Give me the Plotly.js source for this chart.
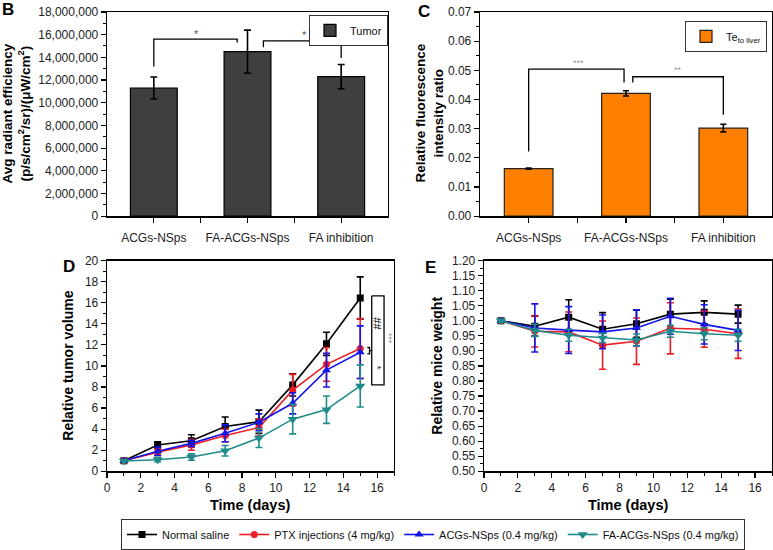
<!DOCTYPE html>
<html>
<head>
<meta charset="utf-8">
<script src="https://cdn.plot.ly/plotly-3.0.1.min.js"></script>
<style>html,body{margin:0;padding:0;background:#fff;}#chart{width:773px;height:550px;}</style>
</head>
<body>
<div id="chart"></div>
<script>
// ---- data ----
const barCats = ['ACGs-NSps', 'FA-ACGs-NSps', 'FA inhibition'];
const tumorVals = [11300000, 14500000, 12300000];
const tumorErr = [970000, 1900000, 1070000];
const liverVals = [0.0163, 0.0421, 0.0302];
const liverErr = [0.0002, 0.0009, 0.0013];

const days = [1, 3, 5, 7, 9, 11, 13, 15];
const seriesNames = ['Normal saline', 'PTX injections (4 mg/kg)', 'ACGs-NSps (0.4 mg/kg)', 'FA-ACGs-NSps (0.4 mg/kg)'];

const volSaline = [1.0, 2.5, 2.9, 4.25, 4.7, 8.2, 12.1, 16.45];
const volSalineErr = [0.05, 0.3, 0.56, 0.9, 1.1, 1.05, 1.1, 2.0];
const volPTX = [1.0, 1.8, 2.5, 3.4, 4.15, 7.7, 10.15, 11.65];
const volPTXErr = [0.05, 0.3, 0.5, 0.6, 0.8, 1.5, 1.6, 2.85];
const volACG = [1.0, 1.9, 2.65, 3.6, 4.65, 6.45, 9.6, 11.3];
const volACGErr = [0.1, 0.4, 0.3, 0.8, 0.8, 1.0, 1.6, 2.5];
const volFA = [0.97, 1.1, 1.35, 1.95, 3.15, 4.95, 5.85, 8.1];
const volFAErr = [0.05, 0.2, 0.3, 0.5, 0.9, 1.4, 1.3, 2.0];

const wSaline = [1.0, 0.982, 1.012, 0.972, 0.99, 1.022, 1.028, 1.022];
const wSalineErr = [0.005, 0.033, 0.058, 0.055, 0.045, 0.05, 0.038, 0.03];
const wPTX = [1.0, 0.965, 0.963, 0.919, 0.932, 0.975, 0.972, 0.957];
const wPTXErr = [0.005, 0.052, 0.066, 0.08, 0.077, 0.085, 0.06, 0.082];
const wACG = [1.0, 0.976, 0.969, 0.963, 0.976, 1.015, 0.988, 0.968];
const wACGErr = [0.005, 0.08, 0.078, 0.056, 0.06, 0.06, 0.065, 0.067];
const wFA = [1.0, 0.968, 0.952, 0.943, 0.936, 0.965, 0.957, 0.952];
const wFAErr = [0.005, 0.02, 0.02, 0.015, 0.02, 0.02, 0.02, 0.02];

// ---- styles ----
const W = 773, H = 550;
const FONT = 'Liberation Sans, Arial, Helvetica, sans-serif';
const colors = ['#000000', '#ee1c24', '#1414e6', '#1f8a8a'];
const symbols = ['square', 'circle', 'triangle-up', 'triangle-down'];
const msize = [7, 7, 8, 9];
const xpx = p => p / W;
const ypx = p => 1 - p / H;
const barX = barCats.map((c, i) => i + 1);

const traces = [];
traces.push({
  type: 'bar', x: barX, y: tumorVals, width: 0.5, name: 'Tumor',
  marker: {color: '#3f3f3f', line: {color: '#000', width: 1.2}},
  error_y: {type: 'data', array: tumorErr, color: '#000', thickness: 1.6, width: 3.5},
  xaxis: 'x', yaxis: 'y', legend: 'legend2', showlegend: true
});
traces.push({
  type: 'bar', x: barX, y: liverVals, width: 0.5, name: 'Te<sub>to liver</sub>',
  marker: {color: '#ff8000', line: {color: '#222', width: 1.2}},
  error_y: {type: 'data', array: liverErr, color: '#000', thickness: 1.6, width: 3},
  xaxis: 'x2', yaxis: 'y2', legend: 'legend3', showlegend: true
});
const vols = [[volSaline, volSalineErr], [volPTX, volPTXErr], [volACG, volACGErr], [volFA, volFAErr]];
const ws = [[wSaline, wSalineErr], [wPTX, wPTXErr], [wACG, wACGErr], [wFA, wFAErr]];
vols.forEach((v, i) => {
  traces.push({
    type: 'scatter', mode: 'lines+markers', x: days, y: v[0], name: seriesNames[i],
    line: {color: colors[i], width: 1.6},
    marker: {color: colors[i], symbol: symbols[i], size: msize[i]},
    error_y: {type: 'data', array: v[1], color: colors[i], thickness: 1.6, width: 3.5},
    xaxis: 'x3', yaxis: 'y3', legend: 'legend', showlegend: true
  });
});
ws.forEach((v, i) => {
  traces.push({
    type: 'scatter', mode: 'lines+markers', x: days, y: v[0], name: seriesNames[i],
    line: {color: colors[i], width: 1.6},
    marker: {color: colors[i], symbol: symbols[i], size: msize[i]},
    error_y: {type: 'data', array: v[1], color: colors[i], thickness: 1.6, width: 3.5},
    xaxis: 'x4', yaxis: 'y4', showlegend: false
  });
});

const tickFont = {family: FONT, size: 12, color: '#222'};
function axisBase(extra) {
  return Object.assign({
    showline: true, linecolor: '#000', linewidth: 1.3, mirror: true,
    ticks: 'outside', ticklen: 5, tickwidth: 1.2, tickcolor: '#000',
    showgrid: false, zeroline: false, tickfont: tickFont, fixedrange: true
  }, extra);
}

const barXAxis = dom => axisBase({
  domain: dom, range: [0.5, 3.5], tickmode: 'array', tickvals: barX, ticktext: barCats,
  ticklabelstandoff: 5,
  minor: {tickmode: 'array', tickvals: [1.5, 2.5], ticks: 'outside', ticklen: 5, tickwidth: 1.2, tickcolor: '#000'}
});
const dayAxis = dom => axisBase({
  domain: dom, range: [0, 17], tickmode: 'linear', tick0: 0, dtick: 2,
  minor: {dtick: 1, tick0: 0, ticks: 'outside', ticklen: 3, tickwidth: 1, tickcolor: '#000'}
});

const layout = {
  width: W, height: H,
  margin: {l: 0, r: 0, t: 0, b: 0},
  paper_bgcolor: '#fff', plot_bgcolor: '#fff',
  font: {family: FONT, color: '#000'},
  xaxis: barXAxis([xpx(107), xpx(388)]),
  yaxis: axisBase({domain: [ypx(217), ypx(12)], range: [0, 18000000], dtick: 2000000, tickformat: ',d',
    minor: {dtick: 1000000, ticks: 'outside', ticklen: 3, tickwidth: 1, tickcolor: '#000'}}),
  xaxis2: Object.assign(barXAxis([xpx(480), xpx(772)]), {anchor: 'y2'}),
  yaxis2: axisBase({domain: [ypx(217), ypx(12)], range: [0, 0.07], dtick: 0.01, tickformat: '.2f', anchor: 'x2',
    minor: {dtick: 0.005, ticks: 'outside', ticklen: 3, tickwidth: 1, tickcolor: '#000'}}),
  xaxis3: Object.assign(dayAxis([xpx(107), xpx(394)]), {anchor: 'y3'}),
  yaxis3: axisBase({domain: [ypx(473), ypx(261.5)], range: [0, 20], dtick: 2, anchor: 'x3',
    minor: {dtick: 1, ticks: 'outside', ticklen: 3, tickwidth: 1, tickcolor: '#000'}}),
  xaxis4: Object.assign(dayAxis([xpx(484), xpx(772)]), {anchor: 'y4'}),
  yaxis4: axisBase({domain: [ypx(473), ypx(261.5)], range: [0.5, 1.2], dtick: 0.05, tick0: 0.5, tickformat: '.2f', anchor: 'x4',
    minor: {dtick: 0.025, ticks: 'outside', ticklen: 3, tickwidth: 1, tickcolor: '#000'}}),
  showlegend: true,
  legend: {
    orientation: 'h', x: xpx(121), xanchor: 'left', y: ypx(521), yanchor: 'top',
    bordercolor: '#333', borderwidth: 1, bgcolor: '#fff',
    font: {family: FONT, size: 11, color: '#111'}, itemclick: false, tracegroupgap: 0
  },
  legend2: {
    x: xpx(388), xanchor: 'right', y: ypx(15), yanchor: 'top',
    bordercolor: '#333', borderwidth: 1, bgcolor: '#fff',
    font: {family: FONT, size: 11, color: '#111'}
  },
  legend3: {
    x: xpx(767), xanchor: 'right', y: ypx(21), yanchor: 'top',
    bordercolor: '#333', borderwidth: 1, bgcolor: '#fff',
    font: {family: FONT, size: 11, color: '#111'}
  },
  shapes: [],
  annotations: []
};

function path(xref, yref, pts, color) {
  const d = pts.map((p, i) => (i ? 'L' : 'M') + p[0] + ',' + p[1]).join(' ');
  layout.shapes.push({type: 'path', xref: xref, yref: yref, path: d, line: {color: color || '#000', width: 1.3}});
}
function note(xref, yref, x, y, text, size, color, angle, bold) {
  layout.annotations.push({xref: xref, yref: yref, x: x, y: y, text: bold ? '<b>' + text + '</b>' : text,
    showarrow: false, font: {family: FONT, size: size, color: color || '#000'}, textangle: angle || 0,
    xanchor: 'center', yanchor: 'middle'});
}

// Panel B brackets
path('x', 'y', [[1, 13200000], [1, 15600000], [1.89, 15600000], [1.89, 15300000]]);
path('x', 'y', [[2.17, 14900000], [2.17, 15450000], [3, 15450000], [3, 13950000]]);
note('x', 'y', 1.46, 16100000, '*', 11, '#555');
note('x', 'y', 2.61, 16000000, '*', 11, '#555');
// Panel C brackets
path('x2', 'y2', [[1, 0.0222], [1, 0.0504], [1.98, 0.0504], [1.98, 0.0458]]);
path('x2', 'y2', [[2.07, 0.0458], [2.07, 0.0478], [3, 0.0478], [3, 0.0348]]);
note('x2', 'y2', 1.51, 0.0525, '***', 9, '#999');
note('x2', 'y2', 2.53, 0.0500, '**', 9, '#999');
// Panel D brackets
path('x3', 'y3', [[15.68, 16.65], [16.41, 16.65], [16.41, 8.2], [15.68, 8.2], [15.68, 16.65]]);
path('x3', 'y3', [[15.42, 11.75], [15.55, 11.75], [15.55, 11.15], [15.42, 11.15]]);
path('x3', 'y3', [[15.55, 11.45], [15.68, 11.45]]);
note('x3', 'y3', 16.02, 14.0, '##', 11, '#000', 90, false);
note('x3', 'y3', 16.02, 9.8, '*', 11, '#333', 90, false);
note('x3', 'y3', 16.75, 12.6, '***', 9, '#888', 90, false);

// axis titles
note('paper', 'paper', xpx(17), ypx(114), 'Avg radiant efficiency<br>(p/s/cm<sup>2</sup>/sr)/(μW/cm<sup>2</sup>)', 13.5, '#000', -90, true);
note('paper', 'paper', xpx(430), ypx(114), 'Relative fluorescence<br>intensity ratio', 13.5, '#000', -90, true);
note('paper', 'paper', xpx(68), ypx(367), 'Relative tumor volume', 14, '#000', -90, true);
note('paper', 'paper', xpx(437), ypx(367), 'Relative mice weight', 14, '#000', -90, true);
note('paper', 'paper', xpx(250), ypx(507), 'Time (days)', 14.5, '#000', 0, true);
note('paper', 'paper', xpx(628), ypx(507), 'Time (days)', 14.5, '#000', 0, true);
// panel letters
note('paper', 'paper', xpx(8), ypx(10), 'B', 17, '#000', 0, true);
note('paper', 'paper', xpx(424), ypx(12), 'C', 17, '#000', 0, true);
note('paper', 'paper', xpx(69), ypx(267), 'D', 17, '#000', 0, true);
note('paper', 'paper', xpx(430), ypx(268), 'E', 17, '#000', 0, true);

Plotly.newPlot('chart', traces, layout, {staticPlot: true, displayModeBar: false});
</script>
</body>
</html>
